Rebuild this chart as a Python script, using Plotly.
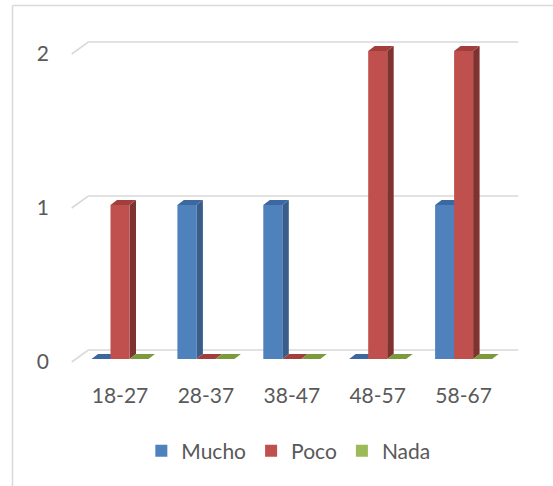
import plotly.graph_objects as go

# Age groups and answer counts
categories = ["18-27", "28-37", "38-47", "48-57", "58-67"]
mucho = [0, 1, 1, 0, 1]
poco = [1, 0, 0, 2, 2]
nada = [0, 0, 0, 0, 0]
y_ticks = [0, 1, 2]

series = [
    ("Mucho", mucho, "#4f81bd", "#3c67a0", "#385d8a"),
    ("Poco", poco, "#c0504d", "#a23f3d", "#7f3330"),
    ("Nada", nada, "#9bbb59", "#7a9a3c", "#66802f"),
]

# Figure / plot-area geometry (pixels)
W, H = 553, 486
ML, MR, MT, MB = 60, 27, 30, 116
plot_w = W - ML - MR
plot_h = H - MT - MB
PX_PER_CAT = 85.9
PX_PER_UNIT = 154.0
x_lo = -0.5 - 17.05 / PX_PER_CAT
x_hi = x_lo + plot_w / PX_PER_CAT
y_lo = -11.0 / PX_PER_UNIT
y_hi = y_lo + plot_h / PX_PER_UNIT

xpx = 1.0 / PX_PER_CAT      # data units per pixel, x
ypx = 1.0 / PX_PER_UNIT     # data units per pixel, y

bar_w = 19.0 * xpx
depth_dx = 6.5 * xpx
depth_dy = 5.0 * ypx

xs = list(range(len(categories)))

fig = go.Figure()
shapes = []

# Back wall gridlines with the short receding edge on the left
for v in y_ticks:
    x0 = -0.5 - 5.35 * xpx
    xb = -0.5 + 11.25 * xpx
    xr = -0.5 + 441.25 * xpx
    yf = v - 3 * ypx
    yb = v + 9 * ypx
    shapes.append(dict(
        type="path", xref="x", yref="y", layer="below",
        path=f"M{x0},{yf} L{xb},{yb} L{xr},{yb}",
        line=dict(color="#d9d9d9", width=1.6),
    ))

# Depth faces (top and right side) of each column
for k, (name, vals, front, top, side) in enumerate(series):
    off = (k - 1.5) * bar_w
    for i, v in enumerate(vals):
        a = i + off
        b = a + bar_w
        # right side face
        if v > 0:
            shapes.append(dict(
                type="path", xref="x", yref="y", layer="below",
                path=(f"M{b},{v} L{b + depth_dx},{v + depth_dy} "
                      f"L{b + depth_dx},{depth_dy} L{b},0 Z"),
                fillcolor=side, line=dict(width=0),
            ))
        # top face
        shapes.append(dict(
            type="path", xref="x", yref="y", layer="below",
            path=(f"M{a},{v} L{a + depth_dx},{v + depth_dy} "
                  f"L{b + depth_dx},{v + depth_dy} L{b},{v} Z"),
            fillcolor=top, line=dict(width=0),
        ))

# Front faces of the columns
for k, (name, vals, front, top, side) in enumerate(series):
    fig.add_trace(go.Bar(
        name=name, x=xs, y=vals,
        width=bar_w, offset=(k - 1.5) * bar_w,
        marker=dict(color=front, line=dict(width=0)),
        hoverinfo="x+y+name",
    ))

# Chart frame (top and left edges)
fx = (12.5 - ML) / plot_w
fy = (H - MB - 5.5) / plot_h
fyb = (H - MB - H) / plot_h
fxr = (W - ML) / plot_w
shapes.append(dict(type="line", xref="paper", yref="paper",
                   x0=fx, y0=fyb, x1=fx, y1=fy,
                   line=dict(color="#d9d9d9", width=1.5)))
shapes.append(dict(type="line", xref="paper", yref="paper",
                   x0=fx, y0=fy, x1=fxr, y1=fy,
                   line=dict(color="#d9d9d9", width=1.5)))

font = dict(family="Lato, 'Open Sans', sans-serif", size=21, color="#595959")

fig.update_layout(
    width=W, height=H,
    margin=dict(l=ML, r=MR, t=MT, b=MB, pad=0),
    paper_bgcolor="white", plot_bgcolor="white",
    barmode="overlay",
    font=font,
    shapes=shapes,
    showlegend=True,
    legend=dict(orientation="h", x=0.49, xanchor="center",
                y=(H - MB - 451) / plot_h, yanchor="middle",
                font=font, itemsizing="constant", traceorder="normal"),
    xaxis=dict(range=[x_lo, x_hi], tickmode="array", tickvals=xs,
               ticktext=categories, showgrid=False, zeroline=False,
               showline=False, ticks="", ticklabelstandoff=11,
               fixedrange=True),
    yaxis=dict(range=[y_lo, y_hi], tickmode="array", tickvals=y_ticks,
               showgrid=False, zeroline=False, showline=False, ticks="",
               ticklabelstandoff=10, ticklabelshift=3, fixedrange=True),
)

fig.write_html("out.html")
